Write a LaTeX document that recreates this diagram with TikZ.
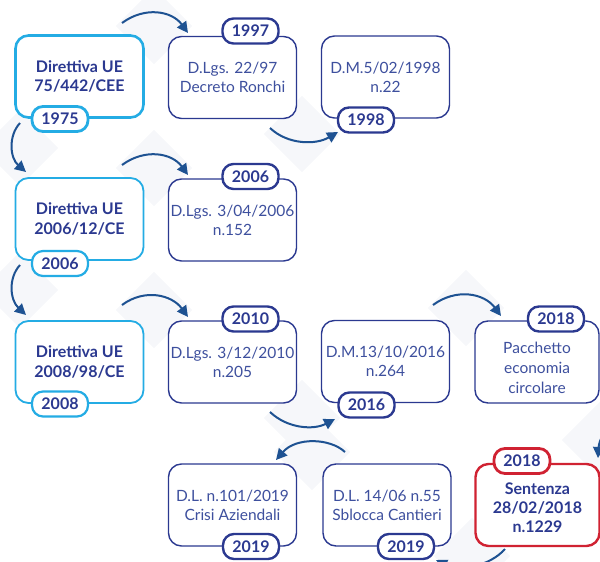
\documentclass[tikz,border=0pt]{standalone}
\usepackage{fontspec}
\setmainfont{Lato}
\usetikzlibrary{arrows.meta}
\definecolor{dblue}{RGB}{43,57,144}
\definecolor{tblue}{RGB}{62,80,158}
\definecolor{lblue}{RGB}{36,172,228}
\definecolor{rred}{RGB}{208,34,50}
\definecolor{arrc}{RGB}{30,82,146}
\definecolor{shade}{RGB}{246,247,250}
\tikzset{
 box/.style={draw=dblue, line width=1.4pt, rounded corners=13pt, minimum width=128pt, minimum height=82pt, fill=white, align=center, text=tblue, font=\fontsize{15.5}{19}\selectfont, inner sep=0pt},
 dirbox/.style={box, draw=lblue, line width=1.8pt, text=dblue, font=\bfseries\fontsize{16}{19.5}\selectfont},
 redbox/.style={box, draw=rred, line width=2.4pt, text=dblue, font=\bfseries\fontsize{16}{19}\selectfont},
 tag/.style={draw=dblue, line width=2.4pt, rounded corners=11pt, minimum width=56pt, minimum height=25pt, fill=white, text=dblue, font=\bfseries\fontsize{16}{18}\selectfont, inner sep=0pt},
 ltag/.style={tag, draw=lblue, line width=2.8pt},
 rtag/.style={tag, draw=rred, line width=2.8pt},
 arr/.style={draw=arrc, line width=2pt, -{Triangle[length=11pt,width=11pt]}},
 shd/.style={fill=shade, draw=none, rotate=45, minimum size=54pt, inner sep=0pt}
}
\begin{document}
\begin{tikzpicture}[x=1pt,y=-1pt]
\useasboundingbox (0,0) rectangle (600,562);
\clip (0,0) rectangle (600,562);
% faint background diamonds
\node[shd] (s1) at (154,26) {};
\node[shd] (s2) at (302,134) {};
\node[shd] (s3) at (20,148) {};
\node[shd] (s4) at (154,168) {};
\node[shd] (s5) at (20,290) {};
\node[shd] (s6) at (154,310) {};
\node[shd] (s7) at (302,418) {};
\node[shd] (s8) at (312,452) {};
\node[shd] (s9) at (466,308) {};
\node[shd] (s10) at (600,440) {};
\node[shd] (s11) at (472,556) {};
% boxes
\node[dirbox, line width=2.6pt] (A) at (79.5,76.5) {Direttiva UE\\75/442/CEE};
\node[box] (B) at (232.5,77.5) {D.Lgs. 22/97\\Decreto Ronchi};
\node[box] (C) at (385.5,77) {D.M.5/02/1998\\n.22};
\node[dirbox] (D) at (79.5,219) {Direttiva UE\\2006/12/CE};
\node[box] (E) at (232.5,220) {D.Lgs. 3/04/2006\\n.152};
\node[dirbox] (F) at (79.5,362) {Direttiva UE\\2008/98/CE};
\node[box] (G) at (232.5,362) {D.Lgs. 3/12/2010\\n.205};
\node[box] (H) at (385.5,361.5) {D.M.13/10/2016\\n.264};
\node[box, minimum width=124pt, label={[text=tblue, align=center, font=\fontsize{15.5}{20}\selectfont, yshift=-6pt]center:Pacchetto\\economia\\circolare}] (I) at (537,362) {};
\node[box] (J) at (232.5,505) {D.L. n.101/2019\\Crisi Aziendali};
\node[box] (K) at (387,505) {D.L. 14/06 n.55\\Sblocca Cantieri};
\node[redbox, minimum width=124pt, label={[text=dblue, align=center, font=\bfseries\fontsize{16}{19}\selectfont, yshift=-3pt]center:Sentenza\\28/02/2018\\n.1229}] (L) at (537.5,505) {};
% tags
\node[ltag] (tA) at (60,119) {1975};
\node[tag] (tB) at (250.5,31) {1997};
\node[tag] (tC) at (366,120) {1998};
\node[ltag, line width=2.2pt] (tD) at (60,263.5) {2006};
\node[tag] (tE) at (250.5,176.5) {2006};
\node[ltag, line width=2.2pt] (tF) at (60,404) {2008};
\node[tag] (tG) at (250.5,319) {2010};
\node[tag] (tH) at (366.5,405) {2016};
\node[tag] (tI) at (556,319) {2018};
\node[tag] (tJ) at (251,546.5) {2019};
\node[tag] (tK) at (406,546.5) {2019};
\node[rtag] (tL) at (522,461) {2018};
% arrow end points
\coordinate (a1s) at (122,23);  \coordinate (a1e) at (188,33);
\coordinate (a2s) at (270,128); \coordinate (a2e) at (338,132);
\coordinate (a3s) at (20,123);  \coordinate (a3e) at (26,172);
\coordinate (a4s) at (122,165); \coordinate (a4e) at (188,175);
\coordinate (a5s) at (20,265);  \coordinate (a5e) at (26,315);
\coordinate (a6s) at (122,305); \coordinate (a6e) at (188,317);
\coordinate (a7s) at (270,412); \coordinate (a7e) at (335,419);
\coordinate (a8s) at (433,305); \coordinate (a8e) at (501,316);
\coordinate (a9s) at (614,418); \coordinate (a9e) at (598,458);
\coordinate (a10s) at (505,549); \coordinate (a10e) at (436,560);
\coordinate (a11s) at (345,452); \coordinate (a11e) at (276,460);
% arrows
\draw[arr] (a1s) .. controls (145,6) and (172,11) .. (a1e);
\draw[arr] (a2s) .. controls (288,145) and (316,145) .. (a2e);
\draw[arr] (a3s) .. controls (8,136) and (10,158) .. (a3e);
\draw[arr] (a4s) .. controls (145,148) and (172,153) .. (a4e);
\draw[arr] (a5s) .. controls (8,278) and (10,300) .. (a5e);
\draw[arr] (a6s) .. controls (145,288) and (172,295) .. (a6e);
\draw[arr] (a7s) .. controls (288,429) and (314,430) .. (a7e);
\draw[arr] (a8s) .. controls (456,288) and (484,293) .. (a8e);
\draw[arr] (a9s) .. controls (606,428) and (599,440) .. (a9e);
\draw[arr] (a10s) .. controls (490,566) and (460,572) .. (a10e);
\draw[arr] (a11s) .. controls (330,438) and (296,437) .. (a11e);
\end{tikzpicture}
\end{document}
